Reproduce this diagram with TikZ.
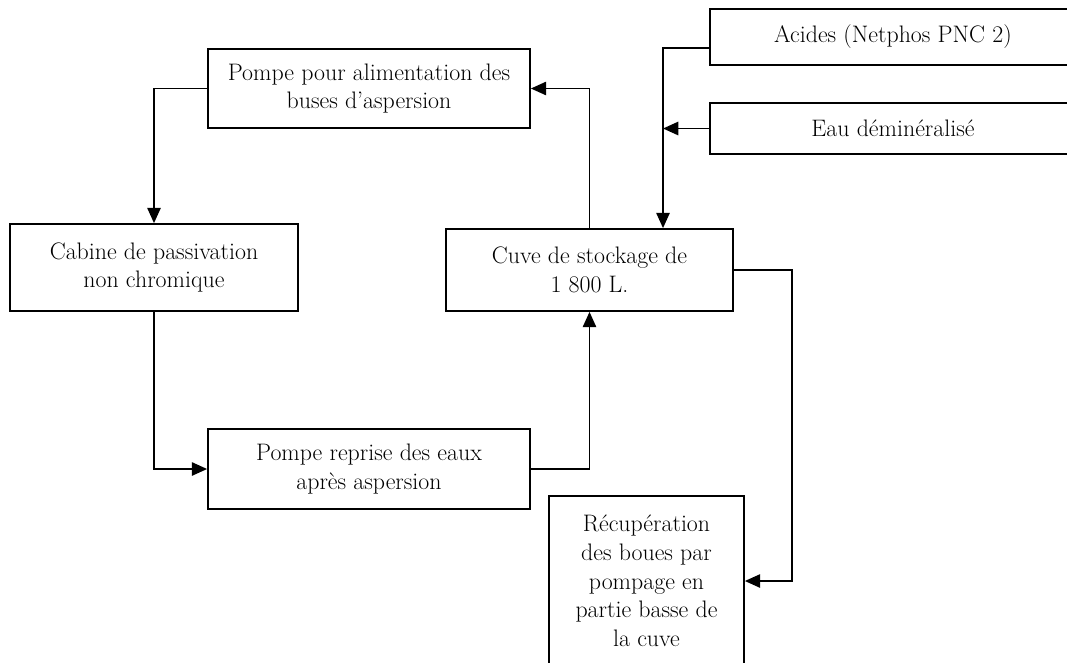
\documentclass[tikz,border=0pt]{standalone}
\usetikzlibrary{arrows.meta}
\begin{document}
\begin{tikzpicture}[x=0.75pt,y=-0.75pt,
  box/.style={draw, line width=1.3pt, align=center, inner sep=0pt, font=\fontsize{17.9}{21.5}\selectfont},
  arr/.style={line width=1.4pt, -{Triangle[length=11.5pt,width=10pt]}},
  con/.style={line width=1.4pt}]
\useasboundingbox (0,0) rectangle (1067,662);
\clip (0,0) rectangle (1067,662);
\fill[white] (0,0) rectangle (1067,662);

\node[box, minimum width=322*0.75pt, minimum height=79*0.75pt] (pompe) at (369,88.5) {Pompe pour alimentation des\\buses d'aspersion};
\node[box, minimum width=366*0.75pt, minimum height=56*0.75pt] (acides) at (893,37) {Acides (Netphos PNC 2)};
\node[box, minimum width=366*0.75pt, minimum height=51*0.75pt] (eau) at (893,128.5) {Eau déminéralisé};
\node[box, minimum width=288*0.75pt, minimum height=87*0.75pt] (cabine) at (154,267.5) {Cabine de passivation\\non chromique};
\node[box, minimum width=287*0.75pt, minimum height=82*0.75pt] (cuve) at (589.5,270) {Cuve de stockage de\\1 800 L.};
\node[box, minimum width=322*0.75pt, minimum height=80*0.75pt] (reprise) at (369,469) {Pompe reprise des eaux\\après aspersion};
\node[box, minimum width=195*0.75pt, minimum height=170*0.75pt] (recup) at (646.5,581) {Récupération\\des boues par\\pompage en\\partie basse de\\la cuve};

\path (663,0) coordinate (jx) (0,48) coordinate (ay) (792,0) coordinate (rx);

\draw[arr] (pompe.west) -| (cabine.north);
\draw[arr] (cabine.south) |- (reprise.west);
\draw[arr] (reprise.east) -| (cuve.south);
\draw[arr] (cuve.north) |- (pompe.east);
\draw[arr] (ay -| acides.west) -| (cuve.north -| jx);
\draw[arr] (eau.west) -- (eau.west -| jx);
\draw[arr] (cuve.east) -- (cuve.east -| rx) |- (recup.east);
\end{tikzpicture}
\end{document}
